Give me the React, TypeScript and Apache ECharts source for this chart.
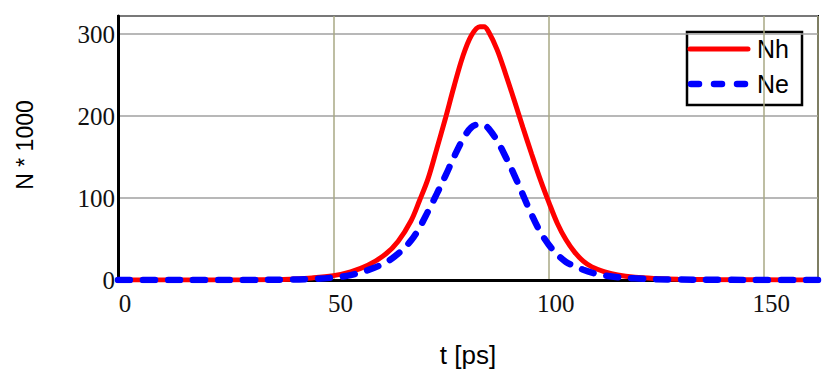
import React, { useEffect, useRef } from "react";
import * as echarts from "echarts";

const tValues = [0, 10, 20, 30, 40, 45, 50, 54, 58, 62, 65, 68, 70, 72, 74, 76, 78, 80, 82, 84, 85, 86, 88, 90, 92, 94, 96, 98, 100, 102, 104, 106, 108, 110, 113, 116, 120, 125, 130, 140, 150, 162.5];
const nhValues = [0, 0, 0, 0.2, 1, 2.5, 5.3, 10, 18, 31, 47, 72, 97, 124, 160, 197, 236, 272, 298, 309, 309, 303, 281, 251, 219, 186, 154, 123, 95, 69, 49, 34, 23, 16, 10, 6, 3.3, 1.8, 1, 0.4, 0.2, 0.1];
const neValues = [0, 0, 0, 0.1, 0.5, 1.3, 3, 6, 12, 21, 32, 48, 64, 84, 105, 127, 150, 171, 186, 190, 189, 185, 170, 150, 128, 104, 80, 59, 43, 31, 22, 17, 12.5, 9, 5.5, 3.4, 2, 1, 0.6, 0.2, 0.1, 0];
const seriesNames = ["Nh", "Ne"];
const seriesColors = ["#ff0000", "#0000ff"];
const xTitle = "t [ps]";
const yTitle = "N * 1000";

const SERIF = "Liberation Serif";
const SANS = "Liberation Sans";

export default function App() {
  const ref = useRef<HTMLDivElement>(null);
  useEffect(() => {
    if (!ref.current) return;
    const chart = echarts.init(ref.current, undefined, { renderer: "svg" });
    const pairs = (ys: number[]) => tValues.map((t, i) => [t, ys[i]]);
    const dash = [12, 13];
    chart.setOption({
      animation: false,
      backgroundColor: "#ffffff",
      grid: {
        left: 118,
        top: 16,
        right: 12,
        bottom: 102,
        show: true,
        borderColor: "#000",
        borderWidth: 2,
        backgroundColor: "transparent",
      },
      xAxis: {
        type: "value",
        min: 0,
        max: 162.5,
        interval: 50,
        axisLine: { show: true, onZero: false, lineStyle: { color: "#000", width: 3 } },
        axisTick: { show: false },
        splitLine: { show: true, lineStyle: { color: "#a8a884", width: 1.5 } },
        axisLabel: {
          showMaxLabel: false,
          color: "#111",
          fontFamily: SERIF,
          fontSize: 25,
          margin: 11,
          padding: [0, 0, 0, 14],
        },
      },
      yAxis: {
        type: "value",
        min: 0,
        max: 322,
        interval: 100,
        axisLine: { show: true, onZero: false, lineStyle: { color: "#000", width: 3 } },
        axisTick: { show: false },
        splitLine: { show: true, lineStyle: { color: "#a0a0a0", width: 1.5 } },
        axisLabel: {
          showMaxLabel: false,
          color: "#111",
          fontFamily: SERIF,
          fontSize: 25,
          margin: 3,
          padding: [6, 0, 0, 0],
        },
      },
      graphic: [
        {
          type: "text",
          x: 468,
          y: 355,
          style: { text: xTitle, fontFamily: SANS, fontSize: 26, fill: "#000", textAlign: "center", textVerticalAlign: "middle" },
        },
        {
          type: "text",
          x: 25,
          y: 145,
          rotation: Math.PI / 2,
          style: { text: yTitle, fontFamily: SANS, fontSize: 23, fill: "#000", textAlign: "center", textVerticalAlign: "middle" },
        },
        {
          type: "group",
          x: 687,
          y: 32,
          z: 100,
          children: [
            { type: "rect", shape: { x: 0, y: 0, width: 115, height: 73 }, style: { fill: "#fff", stroke: "#000", lineWidth: 2.5 } },
            { type: "line", shape: { x1: 3, y1: 17, x2: 61, y2: 17 }, style: { stroke: seriesColors[0], lineWidth: 5, lineCap: "round" } },
            { type: "line", shape: { x1: 4, y1: 52, x2: 61, y2: 52 }, style: { stroke: seriesColors[1], lineWidth: 6.5, lineCap: "round", lineDash: [8, 15] } },
            { type: "text", x: 70, y: 17, style: { text: seriesNames[0], fontFamily: SANS, fontSize: 25, fill: "#000", textVerticalAlign: "middle" } },
            { type: "text", x: 70, y: 52, style: { text: seriesNames[1], fontFamily: SANS, fontSize: 25, fill: "#000", textVerticalAlign: "middle" } },
          ],
        },
      ],
      series: [
        {
          name: seriesNames[0],
          type: "line",
          data: pairs(nhValues),
          smooth: 0.35,
          showSymbol: false,
          symbol: "none",
          lineStyle: { color: seriesColors[0], width: 5 },
          itemStyle: { color: seriesColors[0] },
        },
        {
          name: seriesNames[1],
          type: "line",
          data: pairs(neValues),
          smooth: 0.35,
          showSymbol: false,
          symbol: "none",
          lineStyle: { color: seriesColors[1], width: 6.5, type: dash, cap: "round" },
          itemStyle: { color: seriesColors[1] },
        },
      ],
    });
    return () => chart.dispose();
  }, []);
  return <div ref={ref} style={{ position: "fixed", left: 0, top: 0, width: 830, height: 382 }} />;
}
